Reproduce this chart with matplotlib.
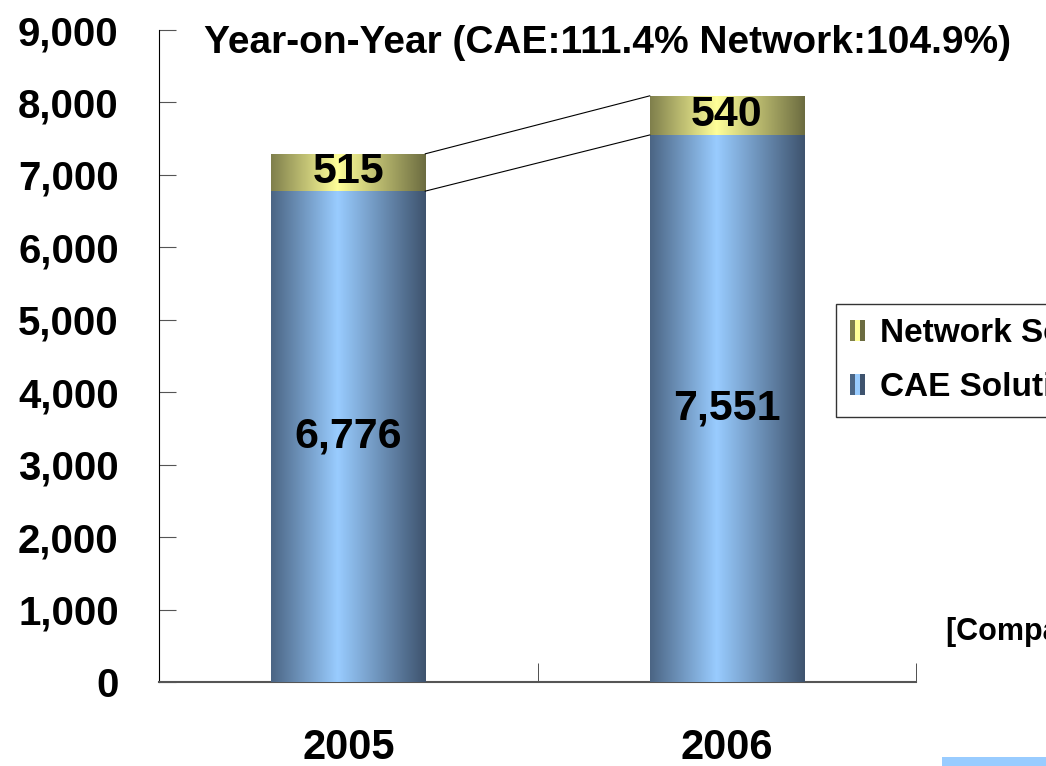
import numpy as np
import matplotlib
matplotlib.use("Agg")
from matplotlib import pyplot as plt
from matplotlib.colors import LinearSegmentedColormap
from matplotlib.patches import Rectangle
from matplotlib.legend_handler import HandlerBase

plt.rcParams["font.family"] = ["Liberation Sans", "DejaVu Sans"]
plt.rcParams["font.weight"] = "bold"

# data
years = ["2005", "2006"]
cae = [6776, 7551]
network = [515, 540]
cae_labels = ["6,776", "7,551"]
net_labels = ["515", "540"]
yticks = [0, 1000, 2000, 3000, 4000, 5000, 6000, 7000, 8000, 9000]
title = "Year-on-Year (CAE:111.4% Network:104.9%)"

cae_cmap = LinearSegmentedColormap.from_list(
    "cae", [(0, "#4b6584"), (0.43, "#99ccff"), (1, "#3e536e")])
net_cmap = LinearSegmentedColormap.from_list(
    "net", [(0, "#7f7f4c"), (0.43, "#ffff99"), (1, "#6c6c40")])

fig = plt.figure(figsize=(10.46, 7.66), dpi=100)
ax = fig.add_axes([159/1046, 84/766, (916-159)/1046, (682-30)/766])

x = np.arange(len(years))
w = 0.407
b1 = ax.bar(x, cae, width=w, color="#99ccff", linewidth=0, zorder=2)
b2 = ax.bar(x, network, width=w, bottom=cae, color="#ffff99", linewidth=0, zorder=2)

# horizontal shading on each bar, clipped to the bar shape
grad = np.linspace(0, 1, 256).reshape(1, -1)
for bars, cmap in [(b1, cae_cmap), (b2, net_cmap)]:
    for p in bars:
        x0, y0 = p.get_x(), p.get_y()
        im = ax.imshow(grad, cmap=cmap, aspect="auto", zorder=3,
                       extent=[x0, x0 + p.get_width(), y0, y0 + p.get_height()])
        im.set_clip_path(p)

# connector lines between the bars
ax.plot([x[0] + w/2, x[1] - w/2], [cae[0] + network[0], cae[1] + network[1]],
        color="black", lw=0.8, zorder=4)
ax.plot([x[0] + w/2, x[1] - w/2], [cae[0], cae[1]], color="black", lw=0.8, zorder=4)

for i in range(len(years)):
    ax.text(x[i], cae[i]/2, cae_labels[i], ha="center", va="center",
            fontsize=31, fontweight="bold", zorder=5)
    ax.text(x[i], cae[i] + network[i]/2, net_labels[i], ha="center", va="center",
            fontsize=31, fontweight="bold", zorder=5)

ax.set_xlim(-0.5, 1.5)
ax.set_ylim(0, 9000)
ax.set_yticks(yticks)
ax.set_yticklabels([f"{v:,}" for v in yticks], fontsize=29, fontweight="bold")
ax.set_xticks(x)
ax.set_xticklabels(years, fontsize=30, fontweight="bold")
ax.set_xticks([0.5, 1.5], minor=True)
ax.tick_params(axis="x", which="major", length=0, pad=33)
ax.tick_params(axis="x", which="minor", direction="in", length=14, color="#333333")
ax.tick_params(axis="y", direction="in", length=12, pad=29, color="#555555")
for s in ["top", "right"]:
    ax.spines[s].set_visible(False)
ax.spines["left"].set_color("black")
ax.spines["bottom"].set_color("#555555")
ax.spines["bottom"].set_linewidth(1.5)

fig.text(204/1046, (766-43)/766, title, ha="left", va="center",
         fontsize=28, fontweight="bold")


class StripeHandler(HandlerBase):
    def __init__(self, cols):
        super().__init__()
        self.cols = cols

    def create_artists(self, legend, orig, xd, yd, width, height, fontsize, trans):
        n = len(self.cols)
        return [Rectangle((-xd + width*k/n, -yd), width/n, height, facecolor=c,
                          edgecolor="none", transform=trans)
                for k, c in enumerate(self.cols)]


h_net = Rectangle((0, 0), 1, 1)
h_cae = Rectangle((0, 0), 1, 1)
leg = fig.legend([h_net, h_cae], ["Network Solutions", "CAE Solutions"],
                 handler_map={h_net: StripeHandler(["#7f7f4c", "#ffff99", "#6c6c40"]),
                              h_cae: StripeHandler(["#4b6584", "#99ccff", "#3e536e"])},
                 loc="upper left", bbox_to_anchor=(836/1046, (766-304)/766),
                 prop={"size": 24, "weight": "bold"}, frameon=True, fancybox=False,
                 handlelength=0.45, handleheight=0.6, handletextpad=0.45,
                 borderpad=0.42, labelspacing=0.7, borderaxespad=0)
leg.get_frame().set_edgecolor("black")
leg.get_frame().set_linewidth(1.0)

fig.text(946/1046, (766-632)/766, "[Company total, Million Yen]", ha="left", va="center",
         fontsize=22, fontweight="bold")
fig.patches.append(Rectangle((942/1046, 0), (1046-942)/1046, 9/766,
                             transform=fig.transFigure, facecolor="#99ccff",
                             edgecolor="none"))

fig.savefig("out.png", dpi=100)
